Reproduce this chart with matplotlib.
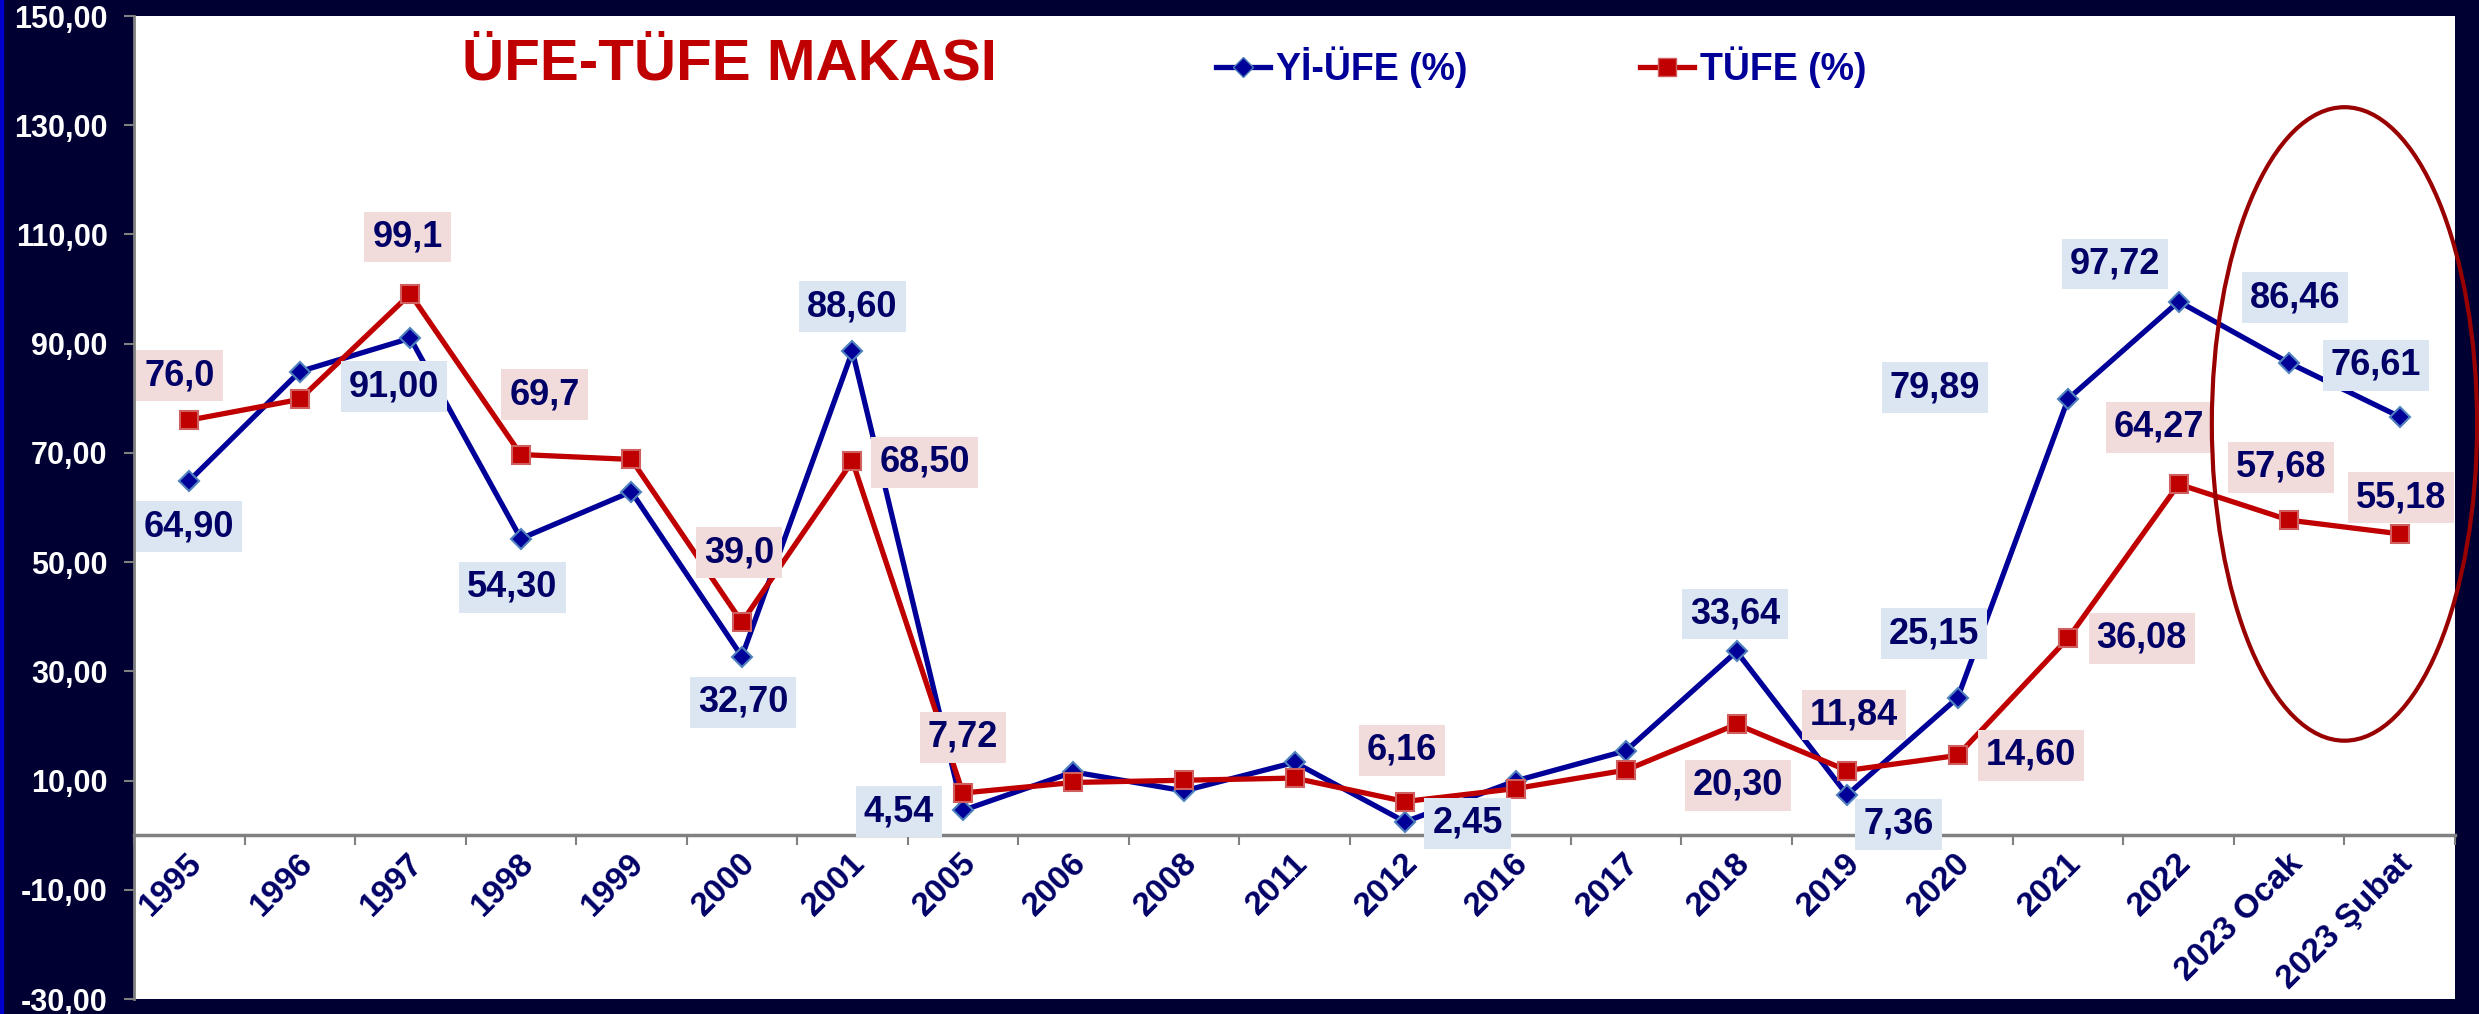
import numpy as np
import matplotlib
matplotlib.use("Agg")
import matplotlib.pyplot as plt
import matplotlib.transforms as mtransforms
from matplotlib.lines import Line2D
from matplotlib.patches import Ellipse, Rectangle

plt.rcParams['font.family'] = ['Liberation Sans', 'DejaVu Sans']
plt.rcParams['font.weight'] = 'bold'

# data
categories = ['1995', '1996', '1997', '1998', '1999', '2000', '2001', '2005', '2006',
              '2008', '2011', '2012', '2016', '2017', '2018', '2019', '2020', '2021',
              '2022', '2023 Ocak', '2023 Şubat']
ufe = [64.90, 84.9, 91.00, 54.30, 62.9, 32.70, 88.60, 4.54, 11.58, 8.11, 13.33,
       2.45, 9.94, 15.47, 33.64, 7.36, 25.15, 79.89, 97.72, 86.46, 76.61]
tufe = [76.0, 79.8, 99.1, 69.7, 68.8, 39.0, 68.50, 7.72, 9.65, 10.06, 10.45,
        6.16, 8.53, 11.92, 20.30, 11.84, 14.60, 36.08, 64.27, 57.68, 55.18]
tufe_decimals = [1, 1, 1, 1, 1, 1, 2, 2, 2, 2, 2, 2, 2, 2, 2, 2, 2, 2, 2, 2, 2]
labeled = [0, 2, 3, 5, 6, 7, 11, 14, 15, 16, 17, 18, 19, 20]

# label offsets (points) for the labeled points
ufe_off = [(0, -33), (-12, -35), (-6, -35), (1, -33), (0, 32), (-46, -1), (45, -1),
           (-1, 27), (37, -21), (-17, 46), (-96, 8), (-46, 27), (4, 47), (-17, 37)]
tufe_off = [(-7, 32), (-2, 41), (17, 43), (-2, 50), (52, -1), (0, 40), (-2, 37),
            (1, -44), (5, 40), (53, 0), (53, 0), (-14, 41), (-6, 38), (1, 26)]

W, H = 2479, 1014
fig = plt.figure(figsize=(W / 100, H / 100), dpi=100, facecolor='#000033')
ax = fig.add_axes([134 / W, 1 - 999 / H, (2455 - 134) / W, (999 - 16) / H])
ax.set_facecolor('white')

# spines first (set_position resets tick settings)
for s in ['top', 'right']:
    ax.spines[s].set_visible(False)
ax.spines['left'].set_color('#808080')
ax.spines['left'].set_linewidth(2)
ax.spines['bottom'].set_position(('data', 0))
ax.spines['bottom'].set_color('#808080')
ax.spines['bottom'].set_linewidth(2.5)

x = np.arange(len(categories))
blue = '#000099'
red = '#C00000'
ax.plot(x, ufe, color=blue, lw=3.8, marker='D', ms=10, mfc=blue,
        mec='#4F81BD', mew=1.5, zorder=3)
ax.plot(x, tufe, color=red, lw=3.8, marker='s', ms=13, mfc=red,
        mec='#D06060', mew=1.5, zorder=4)

def fmt(v, d):
    return f"{v:.{d}f}".replace('.', ',')

for k, i in enumerate(labeled):
    ax.annotate(fmt(ufe[i], 2), (i, ufe[i]), xytext=ufe_off[k], textcoords='offset points',
                ha='center', va='center', fontsize=26, fontweight='bold', color='#000066',
                bbox=dict(boxstyle='square,pad=0.22', fc='#DCE6F2', ec='none'), zorder=6)
    ax.annotate(fmt(tufe[i], tufe_decimals[i]), (i, tufe[i]), xytext=tufe_off[k],
                textcoords='offset points', ha='center', va='center', fontsize=26,
                fontweight='bold', color='#000066',
                bbox=dict(boxstyle='square,pad=0.22', fc='#F2DCDB', ec='none'), zorder=6)

ax.set_xlim(-0.5, len(categories) - 0.5)
ax.set_ylim(-30, 150)
yt = np.arange(-30, 151, 20)
ax.set_yticks(yt)
ax.set_yticklabels([fmt(v, 2) for v in yt], fontsize=22, fontweight='bold', color='white')
ax.tick_params(axis='y', direction='out', length=7, width=1.5, color='#808080', pad=12)

ax.set_xticks(x)
ax.set_xticklabels(categories, rotation=45, ha='right', va='center',
                   rotation_mode='anchor', fontsize=24, fontweight='bold', color='#000066')
ax.tick_params(axis='x', which='major', length=0, pad=17)
ax.set_xticks(np.arange(-0.5, len(categories)), minor=True)
ax.tick_params(axis='x', which='minor', direction='out', length=7, width=1.5, color='#808080')
shift = mtransforms.ScaledTranslation(6 / 72, 0, fig.dpi_scale_trans)
for lbl in ax.get_xticklabels():
    lbl.set_transform(lbl.get_transform() + shift)

handles = [Line2D([], [], color=blue, lw=3.8, marker='D', ms=10, mfc=blue, mec='#4F81BD'),
           Line2D([], [], color=red, lw=3.8, marker='s', ms=13, mfc=red, mec='#D06060')]
leg = ax.legend(handles, ['Yİ-ÜFE (%)', 'TÜFE (%)'], loc='center left',
                bbox_to_anchor=(1216 / W, 1 - 67 / H), bbox_transform=fig.transFigure,
                ncol=2, frameon=False, handlelength=1.45, handletextpad=0.15,
                columnspacing=4.6, borderpad=0, borderaxespad=0, numpoints=1,
                prop={'size': 27, 'weight': 'bold'})
for t in leg.get_texts():
    t.set_color(blue)

fig.text(729 / W, 1 - 65 / H, 'ÜFE-TÜFE MAKASI', ha='center', va='center',
         color=red, fontsize=42, fontweight='bold')

ax.add_patch(Ellipse((19.5, 75.3), 2.4, 116, fill=False, ec='#990000', lw=3,
                     clip_on=False, zorder=7))

fig.add_artist(Rectangle((0, 0), 3 / W, 1, transform=fig.transFigure, color='#0000CC'))

fig.savefig('out.png', dpi=100, facecolor=fig.get_facecolor())
